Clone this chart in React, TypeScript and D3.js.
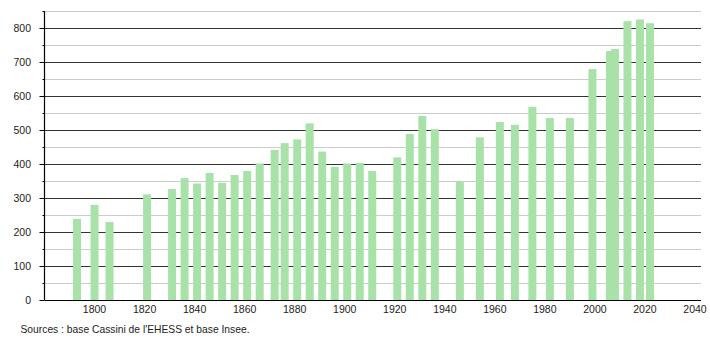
import React from "react";
import * as d3 from "d3";

const years = [
  1793, 1800, 1806, 1821, 1831, 1836, 1841, 1846, 1851, 1856, 1861, 1866, 1872, 1876, 1881, 1886,
  1891, 1896, 1901, 1906, 1911, 1921, 1926, 1931, 1936, 1946, 1954, 1962, 1968, 1975, 1982, 1990,
  1999, 2006, 2008, 2013, 2018, 2022,
];
const population = [
  239, 280, 230, 311, 327, 359, 343, 374, 345, 368, 380, 402, 442, 462, 473, 520,
  437, 392, 402, 404, 380, 420, 489, 542, 503, 348, 479, 524, 516, 569, 536, 536,
  680, 733, 739, 821, 826, 815,
];
const xTickYears = [1800, 1820, 1840, 1860, 1880, 1900, 1920, 1940, 1960, 1980, 2000, 2020, 2040];
const yTickValues = [0, 100, 200, 300, 400, 500, 600, 700, 800];
const yMinorValues = [50, 150, 250, 350, 450, 550, 650, 750, 850];
const sourceText = "Sources : base Cassini de l'EHESS et base Insee.";

const W = 710;
const H = 340;
const left = 44.5;
const right = 701;
const bottom = 300;

export default function App() {
  const x = d3.scaleLinear().domain([1780, 2042.4]).range([left, right]);
  const y = d3.scaleLinear().domain([0, 850]).range([bottom, bottom - 0.3396 * 850]);
  const barW = 8;
  const font = "'Liberation Sans', Arial, sans-serif";

  return (
    <svg
      width={W}
      height={H}
      style={{ position: "absolute", left: 0, top: 0, background: "#fff" }}
      fontFamily={font}
    >
      <rect x={0} y={0} width={W} height={H} fill="#fff" />
      {/* minor grid */}
      {yMinorValues.map((v) => (
        <line
          key={"mg" + v}
          x1={left}
          x2={right}
          y1={Math.round(y(v)) + 0.5}
          y2={Math.round(y(v)) + 0.5}
          stroke="#cccccc"
          strokeWidth={1}
        />
      ))}
      {/* major grid */}
      {yTickValues.filter((v) => v > 0).map((v) => (
        <line
          key={"g" + v}
          x1={left}
          x2={right}
          y1={Math.round(y(v)) + 0.5}
          y2={Math.round(y(v)) + 0.5}
          stroke="#333333"
          strokeWidth={1}
        />
      ))}
      {/* bars */}
      {years.map((yr, i) => (
        <rect
          key={"b" + yr}
          x={x(yr) - barW / 2}
          y={y(population[i])}
          width={barW}
          height={bottom - y(population[i])}
          fill="#a8e2a8"
        />
      ))}
      {/* axes */}
      <line x1={left} x2={left} y1={y(850)} y2={bottom} stroke="#000" strokeWidth={1.2} />
      <line x1={left} x2={right} y1={bottom + 0.5} y2={bottom + 0.5} stroke="#000" strokeWidth={1.2} />
      {yTickValues.map((v) => (
        <g key={"yt" + v}>
          <line x1={left - 5} x2={left} y1={Math.round(y(v)) + 0.5} y2={Math.round(y(v)) + 0.5} stroke="#000" />
          <text
            x={31}
            y={y(v)}
            dy="0.35em"
            textAnchor="end"
            fontSize={10.5}
            fill="#222"
          >
            {v}
          </text>
        </g>
      ))}
      {yMinorValues.map((v) => (
        <line key={"ym" + v} x1={left - 2} x2={left} y1={Math.round(y(v)) + 0.5} y2={Math.round(y(v)) + 0.5} stroke="#000" />
      ))}
      {xTickYears.map((t) => (
        <text key={"xt" + t} x={x(t)} y={313} textAnchor="middle" fontSize={10.5} fill="#222">
          {t}
        </text>
      ))}
      <text x={20.5} y={333} fontSize={10.5} fill="#222" textLength={229} lengthAdjust="spacingAndGlyphs">
        {sourceText}
      </text>
    </svg>
  );
}
